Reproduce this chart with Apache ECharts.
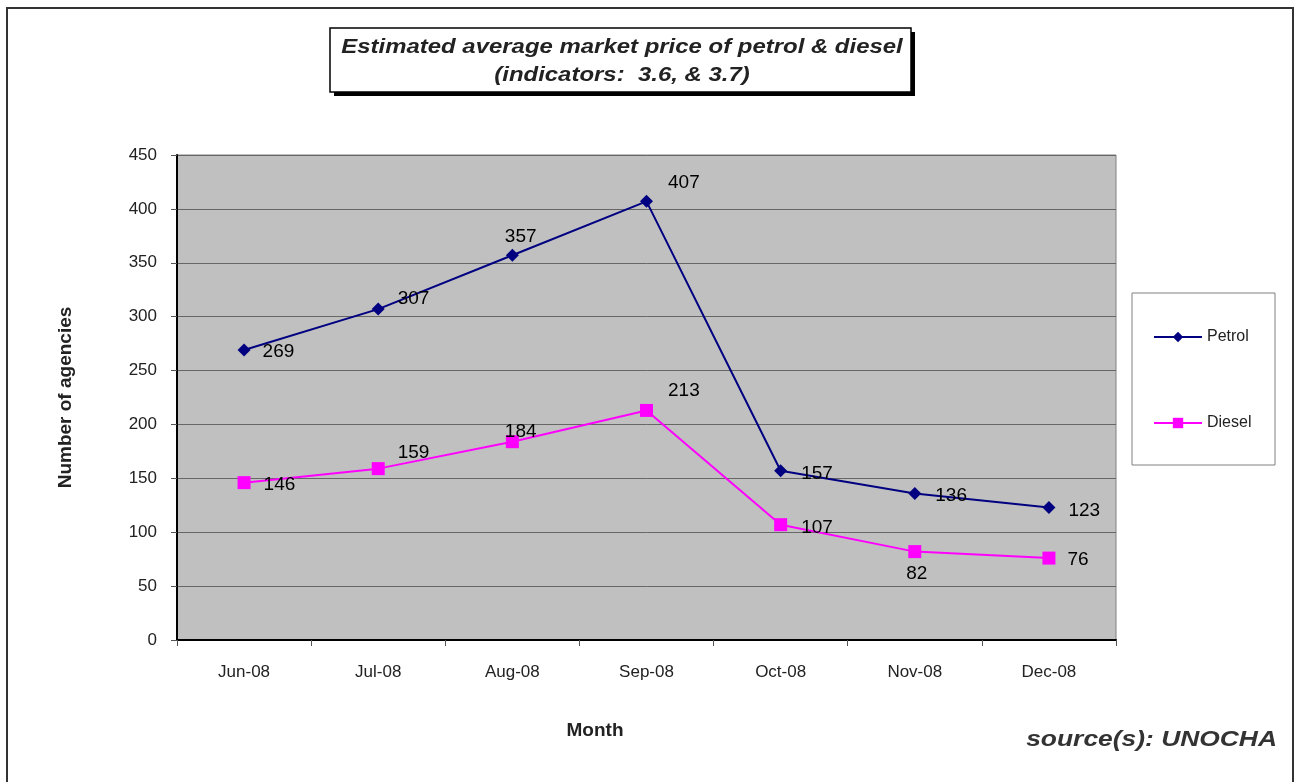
<!DOCTYPE html>
<html>
<head>
<meta charset="utf-8">
<script src="https://cdn.jsdelivr.net/npm/echarts@6/dist/echarts.min.js"></script>
<style>
  html, body { margin: 0; padding: 0; background: #fff; }
  #main { width: 1296px; height: 782px; }
</style>
</head>
<body>
<div id="main"></div>
<script>
var months = ['Jun-08', 'Jul-08', 'Aug-08', 'Sep-08', 'Oct-08', 'Nov-08', 'Dec-08'];
var petrol = [269, 307, 357, 407, 157, 136, 123];
var diesel = [146, 159, 184, 213, 107, 82, 76];
var yTicks = [0, 50, 100, 150, 200, 250, 300, 350, 400, 450];

// label offsets (px) for each point, like the excel labels
var petrolOffsets = [[7, 2], [8, -10], [-19, -18], [10, -19], [9, 3], [9, 2], [8, 3]];
var dieselOffsets = [[8, 2], [8, -16], [-19, -10], [10, -20], [9, 3], [-20, 22], [7, 2]];

function withLabels(values, offsets) {
  return values.map(function (v, i) {
    return { value: v, label: { offset: offsets[i] } };
  });
}

var myChart = echarts.init(document.getElementById('main'));
var option = {
  backgroundColor: '#fff',
  animation: false,
  textStyle: { fontFamily: 'Liberation Sans, Arial, sans-serif' },
  grid: {
    left: 177,
    top: 155,
    width: 939,
    height: 485,
    show: true,
    backgroundColor: '#c0c0c0',
    borderColor: '#808080',
    borderWidth: 1
  },
  legend: {
    orient: 'vertical',
    left: 1148,
    top: 324,
    itemGap: 70,
    itemWidth: 48,
    itemHeight: 13,
    textStyle: { fontSize: 16, color: '#222' },
    data: ['Petrol', 'Diesel']
  },
  xAxis: {
    type: 'category',
    data: months,
    axisLine: { lineStyle: { color: '#000', width: 2 } },
    axisTick: { show: true, length: 6, lineStyle: { color: '#555' } },
    axisLabel: { fontSize: 17, color: '#222', margin: 24 },
    splitLine: { show: false }
  },
  yAxis: {
    type: 'value',
    min: yTicks[0],
    max: yTicks[yTicks.length - 1],
    interval: 50,
    name: 'Number of agencies',
    nameLocation: 'middle',
    nameGap: 102,
    nameTextStyle: { fontSize: 19, fontWeight: 'bold', color: '#222' },
    axisLine: { show: true, lineStyle: { color: '#000', width: 2 } },
    axisTick: { show: true, length: 6, lineStyle: { color: '#555' } },
    axisLabel: { fontSize: 17, color: '#222', margin: 20 },
    splitLine: { show: true, lineStyle: { color: '#666', width: 1 } }
  },
  series: [
    {
      name: 'Petrol',
      type: 'line',
      data: withLabels(petrol, petrolOffsets),
      symbol: 'diamond',
      symbolSize: 13,
      itemStyle: { color: '#000080' },
      lineStyle: { color: '#000080', width: 2 },
      label: { show: true, position: 'right', fontSize: 19, color: '#000' }
    },
    {
      name: 'Diesel',
      type: 'line',
      data: withLabels(diesel, dieselOffsets),
      symbol: 'rect',
      symbolSize: 13,
      itemStyle: { color: '#ff00ff' },
      lineStyle: { color: '#ff00ff', width: 2 },
      label: { show: true, position: 'right', fontSize: 19, color: '#000' }
    }
  ],
  graphic: [
    // outer frame
    { type: 'rect', shape: { x: 7, y: 8, width: 1286, height: 790 }, style: { fill: null, stroke: '#333', lineWidth: 2 }, silent: true },
    // legend box
    { type: 'rect', shape: { x: 1132, y: 293, width: 143, height: 172 }, style: { fill: '#fff', stroke: '#808080', lineWidth: 1 }, z: -1, silent: true },
    // title shadow + box
    { type: 'rect', shape: { x: 334, y: 32, width: 581, height: 64 }, style: { fill: '#000' }, silent: true },
    { type: 'rect', shape: { x: 330, y: 28, width: 581, height: 64 }, style: { fill: '#fff', stroke: '#000', lineWidth: 1.5 }, silent: true },
    {
      type: 'text', x: 622, y: 33, scaleX: 1.14,
      style: {
        text: 'Estimated average market price of petrol & diesel\n(indicators:  3.6, & 3.7)',
        x: 0, y: 0, align: 'center', verticalAlign: 'top',
        font: 'italic bold 21px Liberation Sans, Arial, sans-serif',
        lineHeight: 28, fill: '#222'
      },
      silent: true
    },
    // x axis title sits left of the plot centre in the original
    {
      type: 'text', x: 595, y: 731,
      style: {
        text: 'Month',
        x: 0, y: 0, align: 'center', verticalAlign: 'middle',
        font: 'bold 19px Liberation Sans, Arial, sans-serif',
        fill: '#222'
      },
      silent: true
    },
    {
      type: 'text', x: 1277, y: 740, scaleX: 1.2,
      style: {
        text: 'source(s): UNOCHA',
        x: 0, y: 0, align: 'right', verticalAlign: 'middle',
        font: 'italic bold 22px Liberation Sans, Arial, sans-serif',
        fill: '#333'
      },
      silent: true
    }
  ]
};
myChart.setOption(option, true);
</script>
</body>
</html>
